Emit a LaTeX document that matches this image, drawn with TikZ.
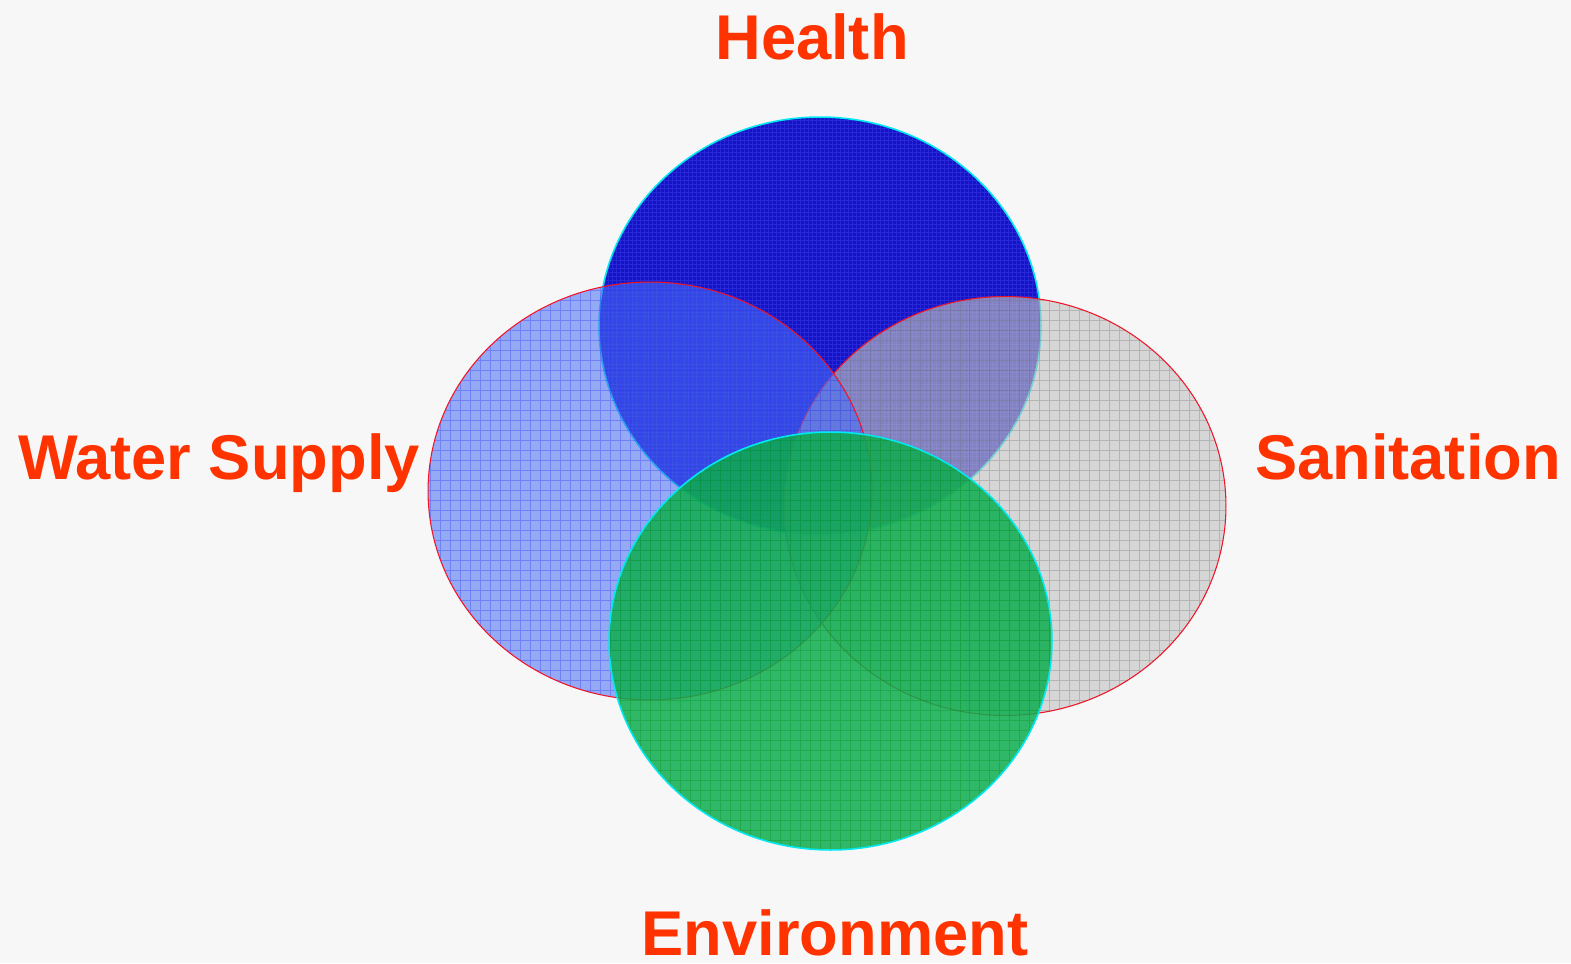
\documentclass[tikz,border=0pt]{standalone}
\usepackage{fontspec}
\setmainfont{Liberation Sans}
\definecolor{bg}{RGB}{247,247,247}
\definecolor{hfill}{RGB}{20,20,196}
\definecolor{wfill}{RGB}{73,112,242}
\definecolor{sfill}{RGB}{195,195,195}
\definecolor{efill}{RGB}{13,173,79}
\definecolor{lab}{RGB}{255,51,0}
\definecolor{edgered}{RGB}{240,20,40}
\definecolor{edgecyan}{RGB}{0,232,240}
\begin{document}
\begin{tikzpicture}[x=0.02cm,y=-0.02cm,
  lbl/.style={font=\fontsize{36}{40}\selectfont\bfseries, text=lab, anchor=base, inner sep=0pt},
  redrim/.style={draw=edgered, line width=0.6pt},
  cyanrim/.style={draw=edgecyan, line width=0.9pt},
  gridline/.style={line width=0.35pt}]
\fill[bg] (0,0) rectangle (1571,963);
\useasboundingbox (0,0) rectangle (1571,963);

% Health
\fill[hfill] (820,326) ellipse [x radius=4.42cm, y radius=4.18cm];
\begin{scope}
  \clip (820,326) ellipse [x radius=4.42cm, y radius=4.18cm];
  \draw[gridline, blue!70!white, opacity=0.35, step=0.08cm] (590,110) grid (1050,540);
\end{scope}
\draw[cyanrim] (820,326) ellipse [x radius=4.42cm, y radius=4.18cm];

% Sanitation
\fill[sfill, fill opacity=0.63] (1005,506) ellipse [x radius=4.42cm, y radius=4.19cm];
\begin{scope}
  \clip (1005,506) ellipse [x radius=4.42cm, y radius=4.19cm];
  \draw[gridline, gray!80!black, opacity=0.3, step=0.2cm] (780,290) grid (1230,720);
\end{scope}
\draw[redrim] (1005,506) ellipse [x radius=4.42cm, y radius=4.19cm];

% Water Supply
\fill[wfill, fill opacity=0.57] (650,491) ellipse [x radius=4.44cm, y radius=4.18cm];
\begin{scope}
  \clip (650,491) ellipse [x radius=4.44cm, y radius=4.18cm];
  \draw[gridline, blue!80!white, opacity=0.35, step=0.2cm] (420,280) grid (880,705);
\end{scope}
\draw[redrim] (650,491) ellipse [x radius=4.44cm, y radius=4.18cm];

% Environment
\fill[efill, fill opacity=0.85] (830.5,641) ellipse [x radius=4.43cm, y radius=4.18cm];
\begin{scope}
  \clip (830.5,641) ellipse [x radius=4.43cm, y radius=4.18cm];
  \draw[gridline, green!50!black, opacity=0.25, step=0.2cm] (600,425) grid (1060,855);
\end{scope}
\draw[cyanrim] (830.5,641) ellipse [x radius=4.43cm, y radius=4.18cm];

% Labels
\node[lbl] (health) at (812,60) {Health};
\node[lbl] (water) at (219,479) {Water Supply};
\node[lbl] (sanit) at (1408,479) {Sanitation};
\node[lbl] (envir) at (835,955) {Environment};
\end{tikzpicture}
\end{document}
